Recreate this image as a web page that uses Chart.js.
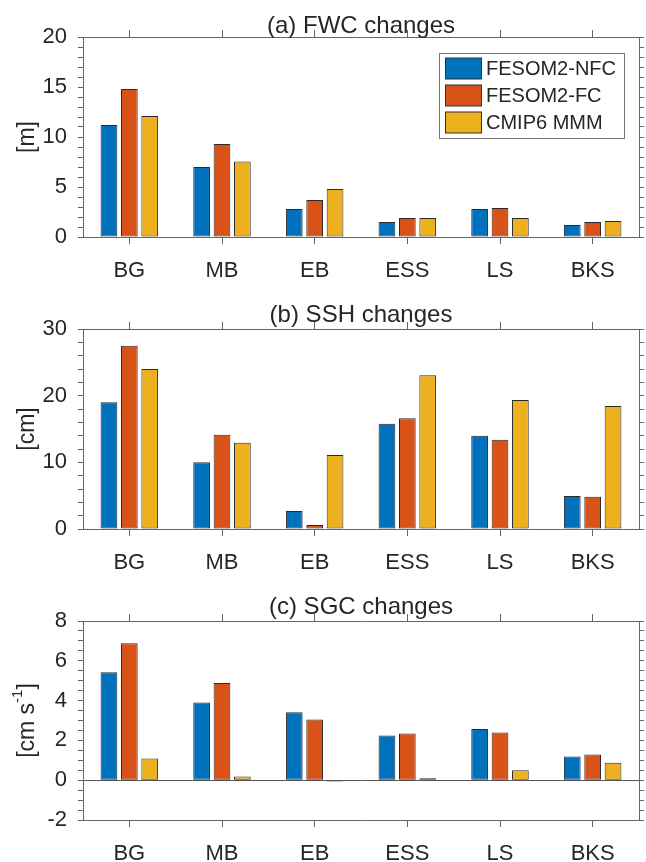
<!DOCTYPE html>
<html>
<head>
<meta charset="utf-8">
<script src="https://cdn.jsdelivr.net/npm/chart.js@4"></script>
<style>
  body { margin: 0; background: #fff; }
  #wrap { position: relative; width: 646px; height: 862px; }
  canvas { position: absolute; left: 0; }
</style>
</head>
<body>
<div id="wrap">
  <canvas id="fwc" width="646" height="290" style="top:0px"></canvas>
  <canvas id="ssh" width="646" height="290" style="top:290px"></canvas>
  <canvas id="sgc" width="646" height="282" style="top:580px"></canvas>
</div>
<script>
// regions and series
const regions = ['BG', 'MB', 'EB', 'ESS', 'LS', 'BKS'];
const seriesNames = ['FESOM2-NFC', 'FESOM2-FC', 'CMIP6 MMM'];
const seriesColors = ['#0072BD', '#D95319', '#EDB120'];

// (a) FWC changes [m]
const fwcNFC = [11.2, 7.0, 2.8, 1.5, 2.8, 1.2];
const fwcFC  = [14.8, 9.3, 3.7, 1.9, 2.9, 1.5];
const fwcMMM = [12.1, 7.55, 4.8, 1.9, 1.9, 1.6];
const fwcTicks = [0, 5, 10, 15, 20];

// (b) SSH changes [cm]
const sshNFC = [19.0, 10.0, 2.7, 15.8, 14.0, 4.95];
const sshFC  = [27.5, 14.15, 0.6, 16.6, 13.4, 4.85];
const sshMMM = [24.0, 12.95, 11.1, 23.05, 19.35, 18.45];
const sshTicks = [0, 10, 20, 30];

// (c) SGC changes [cm s-1]
const sgcNFC = [5.42, 3.9, 3.42, 2.24, 2.57, 1.19];
const sgcFC  = [6.88, 4.89, 3.05, 2.35, 2.4, 1.29];
const sgcMMM = [1.09, 0.18, -0.07, 0.1, 0.5, 0.88];
const sgcTicks = [-2, 0, 2, 4, 6, 8];

Chart.defaults.font.family = "'Liberation Sans', Arial, sans-serif";
Chart.defaults.color = '#262626';

const axisGray = '#666';
const textCol = '#262626';

// panel title + rotated y label (with optional superscript)
const panelText = {
  id: 'panelText',
  afterDraw(chart, args, opts) {
    const ctx = chart.ctx, a = chart.chartArea;
    ctx.save();
    ctx.fillStyle = textCol;
    ctx.font = "24px 'Liberation Sans', Arial, sans-serif";
    ctx.textAlign = 'center';
    ctx.textBaseline = 'alphabetic';
    ctx.fillText(opts.title, (a.left + a.right) / 2, a.top - opts.titleGap);

    // y label
    const big = "23px 'Liberation Sans', Arial, sans-serif";
    const small = "15px 'Liberation Sans', Arial, sans-serif";
    const parts = [[opts.yLabel[0], big, 0]];
    if (opts.yLabel[1]) parts.push([opts.yLabel[1], small, -10]);
    if (opts.yLabel[2]) parts.push([opts.yLabel[2], big, 0]);
    let total = 0;
    parts.forEach(p => { ctx.font = p[1]; p.push(ctx.measureText(p[0]).width); total += p[3]; });
    ctx.translate(opts.yLabelX, (a.top + a.bottom) / 2);
    ctx.rotate(-Math.PI / 2);
    ctx.textAlign = 'left';
    ctx.textBaseline = 'middle';
    let x = -total / 2;
    parts.forEach(p => {
      ctx.font = p[1];
      ctx.fillText(p[0], x, p[2]);
      x += p[3];
    });
    ctx.restore();
  }
};

// legend box inside panel (a), built from datasets
const boxLegend = {
  id: 'boxLegend',
  afterDraw(chart, args, opts) {
    if (!opts.show) return;
    const ctx = chart.ctx;
    ctx.save();
    ctx.fillStyle = '#fff';
    ctx.fillRect(439.5, 53.5, 185, 85);
    ctx.strokeStyle = '#777';
    ctx.lineWidth = 1;
    ctx.strokeRect(439.5, 53.5, 185, 85);
    ctx.font = "20px 'Liberation Sans', Arial, sans-serif";
    ctx.textBaseline = 'middle';
    ctx.textAlign = 'left';
    chart.data.datasets.forEach((ds, i) => {
      const cy = 68.5 + i * 27;
      ctx.fillStyle = ds.backgroundColor;
      ctx.fillRect(445.5, cy - 10.5, 36, 21);
      ctx.strokeStyle = '#333';
      ctx.strokeRect(445.5, cy - 10.5, 36, 21);
      ctx.fillStyle = textCol;
      ctx.fillText(ds.label, 486, cy + 1);
    });
    ctx.restore();
  }
};

function makePanel(id, series, ticks, minor, title, yLabel, sizes, legend, titleGap) {
  const lo = ticks[0], hi = ticks[ticks.length - 1];
  const major = ticks[1] - ticks[0];
  const isMajor = v => Math.abs(v / major - Math.round(v / major)) < 1e-6;
  return new Chart(document.getElementById(id), {
    type: 'bar',
    data: {
      labels: regions,
      datasets: series.map((vals, i) => ({
        label: seriesNames[i],
        data: vals,
        backgroundColor: seriesColors[i],
        borderColor: '#2a2a2a',
        borderWidth: 1,
        borderSkipped: false,
        categoryPercentage: 0.66,
        barPercentage: 0.82,
        xAxisID: 'x',
        yAxisID: 'y'
      }))
    },
    options: {
      responsive: false,
      animation: false,
      layout: { padding: 0 },
      plugins: {
        legend: { display: false },
        tooltip: { enabled: false },
        panelText: { title: title, yLabel: yLabel, yLabelX: 28, titleGap: titleGap },
        boxLegend: { show: legend }
      },
      scales: {
        x: {
          position: 'bottom',
          offset: true,
          grid: { offset: false, drawOnChartArea: false, tickLength: 7, color: axisGray, tickColor: axisGray },
          border: { color: axisGray, width: 1 },
          ticks: { font: { size: 22 }, color: textCol, padding: 14, maxRotation: 0 },
          afterFit: s => { s.height = sizes.bottom; }
        },
        xTop: {
          type: 'category',
          position: 'top',
          offset: true,
          grid: { offset: false, drawOnChartArea: false, tickLength: 7, color: axisGray, tickColor: axisGray },
          border: { color: axisGray, width: 1 },
          ticks: { display: false },
          afterFit: s => { s.height = sizes.top; }
        },
        y: {
          position: 'left',
          min: lo, max: hi,
          grid: {
            drawOnChartArea: true,
            tickLength: 5,
            tickColor: axisGray,
            color: c => (c.tick && c.tick.value === 0) ? '#555' : 'rgba(0,0,0,0)'
          },
          border: { color: axisGray, width: 1 },
          ticks: {
            stepSize: minor, autoSkip: false, font: { size: 22 }, color: textCol, padding: 11,
            callback: v => isMajor(v) ? String(Math.round(v)) : ''
          },
          afterFit: s => { s.width = 83; }
        },
        yR: {
          position: 'right',
          min: lo, max: hi,
          grid: { drawOnChartArea: false, tickLength: 5, color: axisGray, tickColor: axisGray },
          border: { color: axisGray, width: 1 },
          ticks: { stepSize: minor, autoSkip: false, display: false },
          afterFit: s => { s.width = 7; }
        }
      }
    },
    plugins: [panelText, boxLegend]
  });
}

makePanel('fwc', [fwcNFC, fwcFC, fwcMMM], fwcTicks, 1, '(a) FWC changes', ['[m]'], { top: 37, bottom: 53 }, true, 4);
makePanel('ssh', [sshNFC, sshFC, sshMMM], sshTicks, 2, '(b) SSH changes', ['[cm]'], { top: 39, bottom: 51 }, false, 7);
makePanel('sgc', [sgcNFC, sgcFC, sgcMMM], sgcTicks, 0.5, '(c) SGC changes', ['[cm s', '-1', ']'], { top: 41, bottom: 42 }, false, 7);
</script>
</body>
</html>
